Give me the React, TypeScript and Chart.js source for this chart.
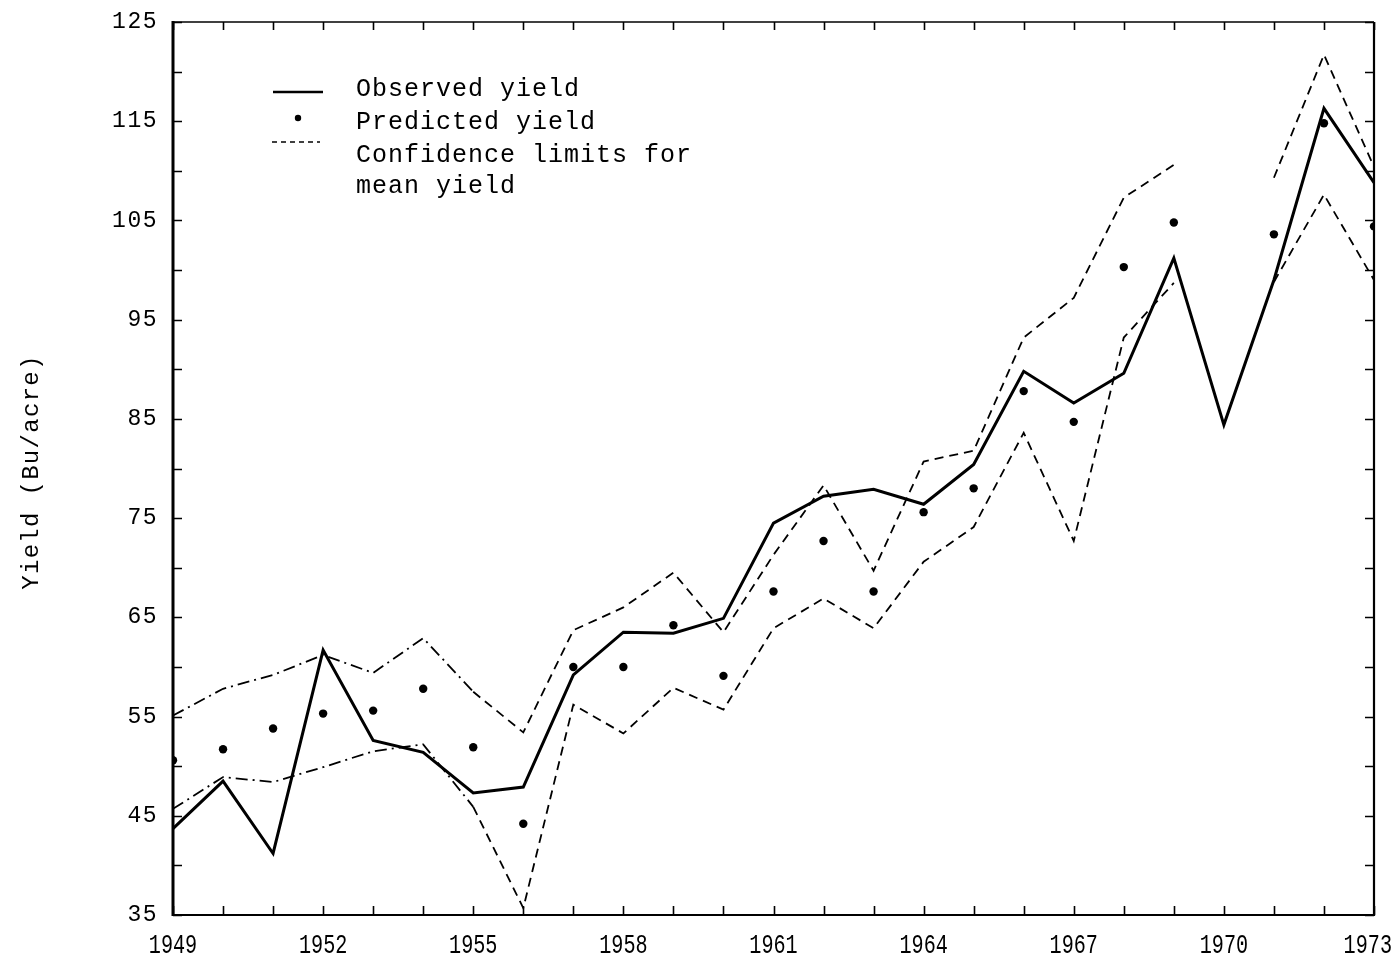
import React, { useEffect, useRef } from "react";
import { Chart, registerables } from "chart.js";

Chart.register(...registerables);

// Crop years and yields (Bu/acre)
const years = [
  1949, 1950, 1951, 1952, 1953, 1954, 1955, 1956, 1957, 1958, 1959, 1960, 1961,
  1962, 1963, 1964, 1965, 1966, 1967, 1968, 1969, 1970, 1971, 1972, 1973,
];
const observedYield = [
  43.7, 48.5, 41.2, 61.7, 52.6, 51.4, 47.3, 47.9, 59.2, 63.5, 63.4, 64.9, 74.5,
  77.2, 77.9, 76.4, 80.4, 89.8, 86.6, 89.6, 101.2, 84.4, 99.0, 116.3, 108.8,
];
const predictedYield = [
  50.6, 51.7, 53.8, 55.3, 55.6, 57.8, 51.9, 44.2, 60.0, 60.0, 64.2, 59.1, 67.6,
  72.7, 67.6, 75.6, 78.0, 87.8, 84.7, 100.3, 104.8, null, 103.6, 114.8, 104.4,
];
const upperLimit = [
  55.1, 57.8, 59.2, 61.2, 59.4, 62.9, 57.5, 53.4, 63.7, 66.0, 69.5, 63.5, 71.3,
  78.3, 69.7, 80.7, 81.8, 93.2, 97.2, 107.3, 110.6, null, 109.3, 121.7, 110.4,
];
const lowerLimit = [
  45.7, 48.9, 48.4, 49.9, 51.5, 52.2, 45.9, 35.7, 56.2, 53.3, 57.9, 55.7, 63.9,
  66.9, 63.9, 70.6, 74.1, 83.6, 72.7, 93.2, 98.7, null, 98.8, 107.6, 99.0,
];
const yTickLabels = ["35", "45", "55", "65", "75", "85", "95", "105", "115", "125"];
const xLabelYears = [1949, 1952, 1955, 1958, 1961, 1964, 1967, 1970, 1973];

const legendLabels = ["Observed yield", "Predicted yield", "Confidence limits for", "mean yield"];
const yAxisTitle = "Yield (Bu/acre)";

const FONT = "'Liberation Mono', 'DejaVu Sans Mono', monospace";

const toPoints = (vals: (number | null)[]) =>
  years.map((yr, i) => ({ x: yr, y: vals[i] }));

// Wider typewriter-like spacing for every text drawn on the canvas
const spacingPlugin = {
  id: "typewriterSpacing",
  beforeDraw(chart: any) {
    (chart.ctx as any).letterSpacing = "1.5px";
  },
};

// Frame, inward tick marks, year labels, axis title and the legend box
const framePlugin = {
  id: "frameAndLegend",
  afterDraw(chart: any) {
    const { ctx, chartArea, width } = chart;
    const xs = chart.scales.x;
    const ys = chart.scales.y;
    const { left, right, top, bottom } = chartArea;
    ctx.save();
    ctx.strokeStyle = "#000";
    ctx.fillStyle = "#000";
    ctx.lineCap = "butt";

    // frame
    ctx.lineWidth = 3;
    ctx.beginPath();
    ctx.moveTo(left, top - 1);
    ctx.lineTo(left, bottom + 1);
    ctx.stroke();
    ctx.lineWidth = 2.2;
    ctx.beginPath();
    ctx.moveTo(left, bottom);
    ctx.lineTo(right, bottom);
    ctx.lineTo(right, top);
    ctx.stroke();
    ctx.lineWidth = 1.6;
    ctx.beginPath();
    ctx.moveTo(left, top);
    ctx.lineTo(right, top);
    ctx.stroke();

    // year ticks, bottom and top
    ctx.lineWidth = 1.6;
    for (const yr of years) {
      const px = Math.round(xs.getPixelForValue(yr)) + 0.5;
      ctx.beginPath();
      ctx.moveTo(px, bottom);
      ctx.lineTo(px, bottom - 9);
      ctx.moveTo(px, top);
      ctx.lineTo(px, top + 8);
      ctx.stroke();
    }
    // yield ticks every 5, left and right
    for (let v = 35; v <= 125; v += 5) {
      const py = Math.round(ys.getPixelForValue(v)) + 0.5;
      ctx.beginPath();
      ctx.moveTo(left, py);
      ctx.lineTo(left + 9, py);
      ctx.moveTo(right, py);
      ctx.lineTo(right - 9, py);
      ctx.stroke();
    }

    // year labels in a tall, condensed face
    ctx.font = `28px ${FONT}`;
    (ctx as any).letterSpacing = "0px";
    ctx.textBaseline = "middle";
    const squeeze = 0.72;
    for (const yr of xLabelYears) {
      const label = String(yr);
      const w = ctx.measureText(label).width * squeeze;
      const cx = xs.getPixelForValue(yr);
      ctx.save();
      if (cx + w / 2 > width - 2) {
        ctx.translate(width - 2, 946);
        ctx.scale(squeeze, 1);
        ctx.textAlign = "right";
      } else {
        ctx.translate(cx, 946);
        ctx.scale(squeeze, 1);
        ctx.textAlign = "center";
      }
      ctx.fillText(label, 0, 0);
      ctx.restore();
    }

    // y axis title
    ctx.font = `24px ${FONT}`;
    ctx.save();
    ctx.translate(32, 472);
    ctx.rotate(-Math.PI / 2);
    ctx.textAlign = "center";
    ctx.textBaseline = "middle";
    (ctx as any).letterSpacing = "1.3px";
    ctx.fillText(yAxisTitle, 0, 0);
    ctx.restore();

    // legend
    ctx.font = `25px ${FONT}`;
    (ctx as any).letterSpacing = "1px";
    ctx.textAlign = "left";
    ctx.textBaseline = "middle";
    ctx.lineWidth = 2.5;
    ctx.beginPath();
    ctx.moveTo(273, 92);
    ctx.lineTo(323, 92);
    ctx.stroke();
    ctx.fillText(legendLabels[0], 356, 89);

    ctx.beginPath();
    ctx.arc(298, 118, 3.2, 0, Math.PI * 2);
    ctx.fill();
    ctx.fillText(legendLabels[1], 356, 122);

    ctx.lineWidth = 1.3;
    ctx.setLineDash([5, 4]);
    ctx.beginPath();
    ctx.moveTo(272, 142);
    ctx.lineTo(320, 142);
    ctx.stroke();
    ctx.setLineDash([]);
    ctx.fillText(legendLabels[2], 356, 155);
    ctx.fillText(legendLabels[3], 356, 186);
    ctx.restore();
  },
};

const dashDot = [12, 5, 2, 5];
const dashed = [9, 6];

export default function App() {
  const canvasRef = useRef<HTMLCanvasElement | null>(null);

  useEffect(() => {
    if (!canvasRef.current) return;
    const limitStyle = {
      borderColor: "#000",
      borderWidth: 1.8,
      pointRadius: 0,
      fill: false,
      spanGaps: false,
      segment: {
        borderDash: (c: any) => (c.p0DataIndex < 6 ? dashDot : dashed),
      },
    };
    const chart = new Chart(canvasRef.current, {
      type: "line",
      data: {
        datasets: [
          {
            label: "Observed yield",
            data: toPoints(observedYield),
            borderColor: "#000",
            borderWidth: 3,
            pointRadius: 0,
            tension: 0,
            borderJoinStyle: "miter",
          },
          { label: "Upper limit", data: toPoints(upperLimit), ...limitStyle },
          { label: "Lower limit", data: toPoints(lowerLimit), ...limitStyle },
          {
            label: "Predicted yield",
            data: toPoints(predictedYield),
            showLine: false,
            pointRadius: 4.2,
            pointBackgroundColor: "#000",
            pointBorderColor: "#000",
            pointBorderWidth: 0,
          },
        ],
      } as any,
      options: {
        animation: false,
        responsive: false,
        layout: { padding: { top: 22, right: 20, left: 0, bottom: 0 } },
        plugins: { legend: { display: false }, tooltip: { enabled: false } },
        scales: {
          x: {
            type: "linear",
            min: 1949,
            max: 1973,
            grid: { display: false, drawTicks: false },
            border: { display: false },
            afterFit: (s: any) => {
              s.height = 50;
              s.paddingLeft = 0;
              s.paddingRight = 0;
            },
            afterBuildTicks: (s: any) => {
              s.ticks = xLabelYears.map((v) => ({ value: v }));
            },
            ticks: { display: false },
          },
          y: {
            type: "linear",
            min: 35,
            max: 125,
            grid: { display: false, drawTicks: false },
            border: { display: false },
            afterFit: (s: any) => {
              s.width = 173;
              s.paddingTop = 0;
              s.paddingBottom = 0;
            },
            afterBuildTicks: (s: any) => {
              s.ticks = yTickLabels.map((t) => ({ value: Number(t) }));
            },
            ticks: {
              autoSkip: false,
              padding: 15,
              color: "#000",
              font: { family: FONT, size: 23 },
              callback: (v: any) => yTickLabels.find((t) => Number(t) === v) ?? "",
            },
          },
        },
      },
      plugins: [spacingPlugin, framePlugin],
    });
    return () => chart.destroy();
  }, []);

  return (
    <div style={{ position: "absolute", left: 0, top: 0, width: 1394, height: 965, background: "#fff" }}>
      <canvas ref={canvasRef} width={1394} height={965} style={{ display: "block" }} />
    </div>
  );
}
